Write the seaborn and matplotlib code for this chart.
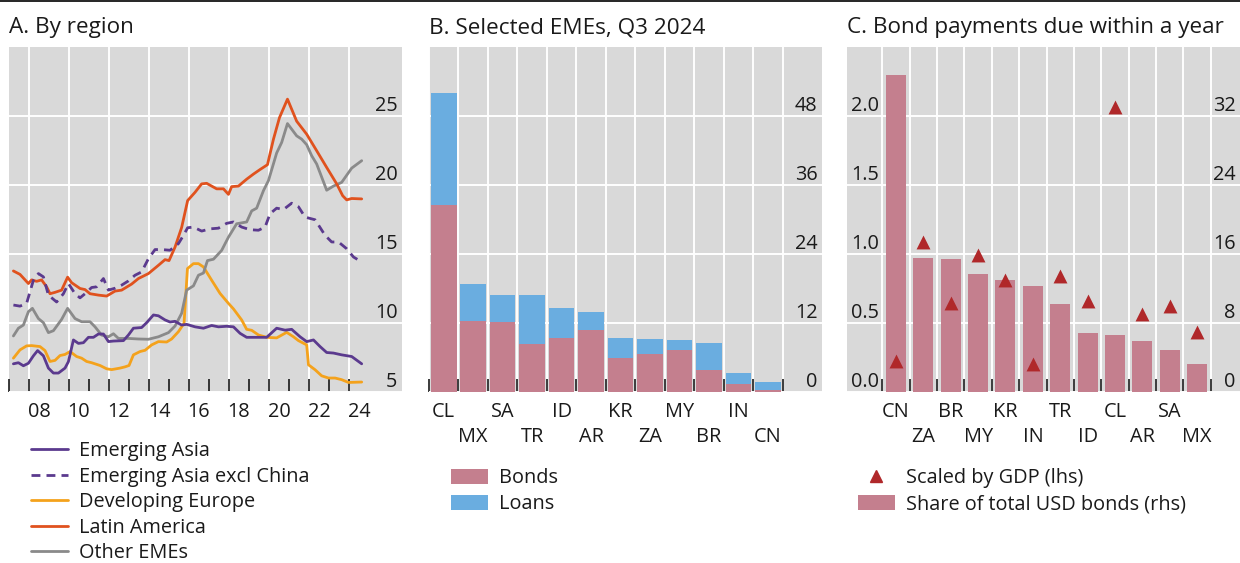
import numpy as np
import matplotlib
matplotlib.use('Agg')
import matplotlib.pyplot as plt
import seaborn as sns
from matplotlib.lines import Line2D
from matplotlib.patches import Patch
from matplotlib.transforms import ScaledTranslation


# ---- panel A: by region (per cent) ----
ea_years = [2007.22, 2007.47, 2007.72, 2007.97, 2008.22, 2008.43, 2008.72, 2008.97, 2009.22, 2009.47,
            2009.8, 2009.97, 2010.22, 2010.47, 2010.72, 2010.97, 2011.22, 2011.47, 2011.72, 2011.97,
            2012.22, 2012.72, 2012.97, 2013.22, 2013.63, 2013.88, 2014.22, 2014.47, 2014.8, 2015.05,
            2015.3, 2015.63, 2015.88, 2016.3, 2016.72, 2017.13, 2017.47, 2017.88, 2018.22, 2018.55,
            2018.88, 2019.38, 2019.88, 2020.38, 2020.8, 2021.13, 2021.55, 2021.88, 2022.22, 2022.55,
            2022.88, 2023.22, 2023.63, 2024.13, 2024.63]
ea_vals = [7.02, 7.1, 6.88, 7.06, 7.6, 7.98, 7.6, 6.71, 6.35, 6.35,
           6.71, 7.18, 8.75, 8.5, 8.55, 8.94, 8.94, 9.18, 9.18, 8.63,
           8.67, 8.7, 9.11, 9.6, 9.65, 10.0, 10.56, 10.5, 10.2, 10.05,
           10.1, 9.83, 9.88, 9.7, 9.6, 9.8, 9.7, 9.74, 9.7, 9.23,
           8.94, 8.94, 8.94, 9.6, 9.46, 9.52, 8.98, 8.63, 8.75, 8.27,
           7.84, 7.8, 7.67, 7.55, 7.02]

eax_years = [2007.22, 2007.55, 2007.88, 2008.22, 2008.47, 2008.72, 2008.97, 2009.38, 2009.72, 2009.97,
             2010.3, 2010.55, 2010.8, 2011.13, 2011.38, 2011.72, 2011.97, 2012.3, 2012.63, 2012.97,
             2013.3, 2013.63, 2013.97, 2014.3, 2014.63, 2015.05, 2015.47, 2015.72, 2015.93, 2016.22,
             2016.63, 2017.05, 2017.47, 2017.88, 2018.22, 2018.63, 2019.05, 2019.47, 2019.8, 2020.05,
             2020.38, 2020.72, 2021.13, 2021.47, 2021.8, 2022.3, 2022.8, 2023.13, 2023.47, 2023.88,
             2024.22, 2024.63]
eax_vals = [11.28, 11.2, 11.4, 13.08, 13.56, 13.32, 12.0, 11.5, 12.1, 12.84,
            12.1, 11.8, 12.1, 12.55, 12.6, 13.2, 12.36, 12.5, 12.72, 13.03,
            13.44, 13.68, 14.64, 15.3, 15.3, 15.25, 15.73, 16.33, 16.88, 16.93,
            16.64, 16.8, 16.85, 17.2, 17.3, 16.93, 16.74, 16.7, 16.93, 17.9,
            18.3, 18.2, 18.66, 18.4, 17.65, 17.46, 16.33, 15.85, 15.85, 15.36,
            14.76, 14.4]

de_years = [2007.22, 2007.55, 2007.88, 2008.13, 2008.55, 2008.8, 2009.05, 2009.3, 2009.55, 2009.8,
            2010.05, 2010.38, 2010.63, 2010.88, 2011.13, 2011.55, 2011.88, 2012.13, 2012.55, 2012.8,
            2013.0, 2013.22, 2013.55, 2013.8, 2014.13, 2014.47, 2014.88, 2015.13, 2015.47, 2015.75,
            2015.92, 2016.22, 2016.47, 2016.72, 2017.13, 2017.55, 2017.97, 2018.22, 2018.63, 2018.88,
            2019.13, 2019.47, 2019.88, 2020.38, 2020.63, 2020.88, 2021.22, 2021.47, 2021.88, 2021.97,
            2022.3, 2022.63, 2022.97, 2023.3, 2023.63, 2023.97, 2024.63]
de_vals = [7.43, 8.03, 8.32, 8.34, 8.27, 7.98, 7.19, 7.27, 7.62, 7.7,
           7.91, 7.55, 7.43, 7.19, 7.1, 6.9, 6.66, 6.6, 6.71, 6.8,
           6.9, 7.67, 7.91, 8.0, 8.39, 8.63, 8.6, 8.82, 9.35, 9.96,
           13.92, 14.28, 14.28, 14.04, 13.08, 12.12, 11.4, 11.0, 10.2, 9.52,
           9.45, 9.11, 8.94, 8.9, 9.1, 9.3, 8.98, 8.7, 8.39, 6.95,
           6.59, 6.15, 5.99, 5.99, 5.87, 5.67, 5.7]

la_years = [2007.22, 2007.55, 2007.97, 2008.13, 2008.38, 2008.63, 2008.88, 2009.05, 2009.3, 2009.63,
            2009.93, 2010.13, 2010.55, 2010.8, 2011.05, 2011.47, 2011.88, 2012.3, 2012.63, 2013.13,
            2013.47, 2013.97, 2014.47, 2014.8, 2015.0, 2015.3, 2015.63, 2015.93, 2016.3, 2016.63,
            2016.88, 2017.38, 2017.72, 2017.97, 2018.13, 2018.47, 2018.88, 2019.22, 2019.55, 2019.92,
            2020.22, 2020.52, 2020.92, 2021.38, 2021.88, 2022.38, 2022.88, 2023.38, 2023.68, 2023.88,
            2024.13, 2024.63]
la_vals = [13.75, 13.5, 12.84, 13.1, 13.0, 13.1, 12.6, 12.1, 12.2, 12.36,
           13.3, 12.9, 12.48, 12.4, 12.1, 12.0, 11.93, 12.29, 12.36, 12.8,
           13.2, 13.56, 14.16, 14.57, 14.5, 15.48, 16.9, 18.85, 19.45, 20.06,
           20.1, 19.7, 19.7, 19.3, 19.86, 19.9, 20.4, 20.77, 21.1, 21.45,
           23.3, 24.86, 26.2, 24.6, 23.66, 22.46, 21.25, 20.06, 19.2, 18.9,
           19.0, 18.97]

oe_years = [2007.22, 2007.47, 2007.72, 2007.97, 2008.17, 2008.47, 2008.72, 2008.97, 2009.22, 2009.63,
            2009.93, 2010.3, 2010.63, 2011.05, 2011.3, 2011.63, 2011.97, 2012.22, 2012.47, 2012.97,
            2013.47, 2013.97, 2014.47, 2014.97, 2015.3, 2015.63, 2015.88, 2016.22, 2016.47, 2016.72,
            2016.92, 2017.22, 2017.63, 2017.97, 2018.38, 2018.88, 2019.13, 2019.38, 2019.72, 2019.97,
            2020.38, 2020.63, 2020.92, 2021.38, 2021.63, 2021.88, 2022.13, 2022.38, 2022.88, 2023.22,
            2023.63, 2024.13, 2024.63]
oe_vals = [9.04, 9.6, 9.83, 10.8, 11.04, 10.3, 10.0, 9.28, 9.42, 10.24,
           11.04, 10.3, 10.07, 10.07, 9.7, 9.1, 8.98, 9.2, 8.86, 8.86,
           8.82, 8.8, 8.98, 9.28, 9.76, 10.68, 12.36, 12.67, 13.44, 13.6,
           14.5, 14.6, 15.24, 16.2, 17.17, 17.3, 18.1, 18.3, 19.57, 20.3,
           22.3, 23.06, 24.43, 23.54, 23.3, 22.9, 22.1, 21.5, 19.6, 19.9,
           20.17, 21.2, 21.74]

# ---- panel B: selected EMEs, Q3 2024 ----
b_countries = ['CL', 'MX', 'SA', 'TR', 'ID', 'AR', 'KR', 'ZA', 'MY', 'BR', 'IN', 'CN']
b_bonds = [32.5, 12.3, 12.2, 8.3, 9.3, 10.7, 5.9, 6.6, 7.2, 3.8, 1.4, 0.35]
b_loans = [19.4, 6.5, 4.7, 8.6, 5.3, 3.2, 3.5, 2.6, 1.8, 4.7, 1.9, 1.35]

# ---- panel C: bond payments due within a year ----
c_countries = ['CN', 'ZA', 'BR', 'MY', 'KR', 'IN', 'TR', 'ID', 'CL', 'AR', 'SA', 'MX']
c_gdp = [0.22, 1.085, 0.64, 0.99, 0.81, 0.2, 0.835, 0.655, 2.06, 0.565, 0.62, 0.43]
c_share = [36.75, 15.5, 15.4, 13.6, 12.9, 12.3, 10.2, 6.84, 6.6, 5.9, 4.87, 3.25]

a_ticks = [5, 10, 15, 20, 25]
b_ticks = [0, 12, 24, 36, 48]
c_left_ticks = [0.0, 0.5, 1.0, 1.5, 2.0]
c_right_ticks = [0, 8, 16, 24, 32]

PURPLE = '#5b3a8e'
YELLOW = '#f4a21c'
RED = '#e0521e'
GREY = '#8a8a8a'
PINK = '#c47f8e'
BLUE = '#6aade0'
TRI = '#b0282a'
BG = '#d9d9d9'

FS = 14.3
TFS = 16.2

sns.set_theme(style='darkgrid', rc={'axes.facecolor': BG, 'grid.color': 'white',
                                    'grid.linewidth': 1.4, 'axes.edgecolor': BG})
plt.rcParams['font.family'] = ['Open Sans', 'DejaVu Sans']
plt.rcParams['text.color'] = '#1a1a1a'
plt.rcParams['xtick.color'] = '#1a1a1a'
plt.rcParams['ytick.color'] = '#1a1a1a'

fig = plt.figure(figsize=(12.4, 5.63), dpi=100)
W, H = 1240.0, 563.0


def px_axes(left, top, right, bottom):
    return fig.add_axes([left / W, 1 - bottom / H, (right - left) / W, (bottom - top) / H])


ax_a = px_axes(9, 46.7, 401.7, 391.7)
ax_b = px_axes(429, 46.7, 821.7, 391.7)
ax_c = px_axes(847.3, 46.7, 1240, 391.7)

for ax in (ax_a, ax_b, ax_c):
    for s in ax.spines.values():
        s.set_visible(False)


def right_labels(ax, ticks, fmt):
    ax.set_yticks(ticks)
    ax.set_yticklabels([fmt.format(t) for t in ticks])
    ax.yaxis.tick_right()
    ax.tick_params(axis='y', length=0, pad=-3, labelsize=FS)
    for lab in ax.get_yticklabels():
        lab.set_horizontalalignment('right')
        lab.set_verticalalignment('bottom')


def left_labels(ax, ticks, fmt):
    ax.set_yticks(ticks)
    ax.set_yticklabels([fmt.format(t) for t in ticks])
    ax.yaxis.tick_left()
    ax.tick_params(axis='y', length=0, pad=-3, labelsize=FS)
    for lab in ax.get_yticklabels():
        lab.set_horizontalalignment('left')
        lab.set_verticalalignment('bottom')


# ---- A ----
series = [
    ('Developing Europe', de_years, de_vals, YELLOW, '-'),
    ('Other EMEs', oe_years, oe_vals, GREY, '-'),
    ('Latin America', la_years, la_vals, RED, '-'),
    ('Emerging Asia excl China', eax_years, eax_vals, PURPLE, (0, (3.2, 2.2))),
    ('Emerging Asia', ea_years, ea_vals, PURPLE, '-'),
]
for name, xs, ys, col, ls in series:
    sns.lineplot(x=xs, y=ys, ax=ax_a, color=col, linewidth=2.0, linestyle=ls,
                 label=name, sort=False, legend=False)
if ax_a.get_legend() is not None:
    ax_a.get_legend().remove()

ax_a.set_xlim(2007, 2026.63)
ax_a.set_ylim(5, 30)
even_years = list(range(2008, 2025, 2))
ax_a.set_xticks(even_years)
ax_a.set_xticklabels(['{:02d}'.format(y % 100) for y in even_years])
ax_a.set_xticks(list(range(2007, 2024, 2)), minor=True)
ax_a.grid(axis='x', which='minor', visible=False)
ax_a.tick_params(axis='x', which='both', direction='in', length=9.5, width=1.2,
                 color='#1a1a1a', bottom=True, labelsize=FS, pad=7.5)
shift = ScaledTranslation(10 / 100, 0, fig.dpi_scale_trans)
for lab in ax_a.get_xticklabels():
    lab.set_transform(lab.get_transform() + shift)
right_labels(ax_a, a_ticks, '{:d}')
ax_a.set_xlabel('')
ax_a.set_ylabel('')

# ---- B ----
b_total = [b + l for b, l in zip(b_bonds, b_loans)]
sns.barplot(x=b_countries, y=b_total, color=BLUE, saturation=1, width=0.87, ax=ax_b,
            edgecolor='none', linewidth=0)
sns.barplot(x=b_countries, y=b_bonds, color=PINK, saturation=1, width=0.87, ax=ax_b,
            edgecolor='none', linewidth=0)
ax_b.set_xlim(-0.5, 12.83)
ax_b.set_ylim(0, 60)


def cat_axis(ax, labels):
    n = len(labels)
    ax.set_xticks(np.arange(n + 1) - 0.5)
    ax.set_xticklabels([''] * (n + 1))
    ax.set_xticks(np.arange(n), minor=True)
    ax.set_xticklabels([lab if i % 2 == 0 else '\n' + lab for i, lab in enumerate(labels)],
                       minor=True)
    ax.grid(axis='x', which='major', visible=True, color='white', linewidth=1.4)
    ax.grid(axis='x', which='minor', visible=False)
    ax.tick_params(axis='x', which='major', direction='in', length=9.5, width=1.2,
                   color='#1a1a1a', bottom=True)
    ax.tick_params(axis='x', which='minor', length=0, labelsize=FS, pad=7.5)
    for lab in ax.get_xticklabels(minor=True):
        lab.set_linespacing(1.3)
    ax.set_xlabel('')
    ax.set_ylabel('')


cat_axis(ax_b, b_countries)
right_labels(ax_b, b_ticks, '{:d}')

# ---- C ----
sns.barplot(x=c_countries, y=c_share, color=PINK, saturation=1, width=0.73, ax=ax_c,
            edgecolor='none', linewidth=0)
ax_c.set_xlim(-1.78, 12.57)
ax_c.set_ylim(0, 40)
cat_axis(ax_c, c_countries)
ax_t = ax_c.twinx()
sns.scatterplot(x=np.arange(len(c_countries)), y=c_gdp, marker='^', s=100, color=TRI,
                linewidth=0, ax=ax_t, zorder=5)
ax_t.set_ylim(0, 2.5)
ax_t.grid(False)
for s in ax_t.spines.values():
    s.set_visible(False)
right_labels(ax_c, c_right_ticks, '{:d}')
left_labels(ax_t, c_left_ticks, '{:.1f}')
ax_t.set_ylabel('')
ax_c.set_xlim(-1.78, 12.57)

# ---- titles ----
fig.text(9 / W, 1 - 28 / H, 'A. By region', fontsize=TFS, va='center', ha='left')
fig.text(429 / W, 1 - 28 / H, 'B. Selected EMEs, Q3 2024', fontsize=TFS, va='center', ha='left')
fig.text(847.3 / W, 1 - 28 / H, 'C. Bond payments due within a year', fontsize=TFS,
         va='center', ha='left')
fig.add_artist(Line2D([0, 1], [1 - 1 / H, 1 - 1 / H], transform=fig.transFigure,
                      color='black', linewidth=1.2))

# ---- legends ----
leg_a = [
    Line2D([], [], color=PURPLE, lw=2.0),
    Line2D([], [], color=PURPLE, lw=2.0, linestyle=(0, (3.2, 2.2))),
    Line2D([], [], color=YELLOW, lw=2.0),
    Line2D([], [], color=RED, lw=2.0),
    Line2D([], [], color=GREY, lw=2.0),
]
leg_a_labels = ['Emerging Asia', 'Emerging Asia excl China', 'Developing Europe',
                'Latin America', 'Other EMEs']
common = dict(frameon=False, fontsize=FS, borderpad=0, borderaxespad=0,
              handlelength=1.85, handletextpad=0.55, labelspacing=0.31, loc='upper left')
leg_a_kw = dict(common, labelspacing=0.28)
fig.legend(leg_a, leg_a_labels, bbox_to_anchor=(31 / W, 1 - 441 / H), **leg_a_kw)

leg_b = [Patch(color=PINK, linewidth=0), Patch(color=BLUE, linewidth=0)]
fig.legend(leg_b, ['Bonds', 'Loans'], bbox_to_anchor=(451 / W, 1 - 468 / H),
           handleheight=0.78, **common)

leg_c = [Line2D([], [], color=TRI, marker='^', linestyle='none', markersize=9),
         Patch(color=PINK, linewidth=0)]
fig.legend(leg_c, ['Scaled by GDP (lhs)', 'Share of total USD bonds (rhs)'],
           bbox_to_anchor=(858 / W, 1 - 468 / H), handleheight=0.78, **common)

fig.savefig('out.png', dpi=100)
